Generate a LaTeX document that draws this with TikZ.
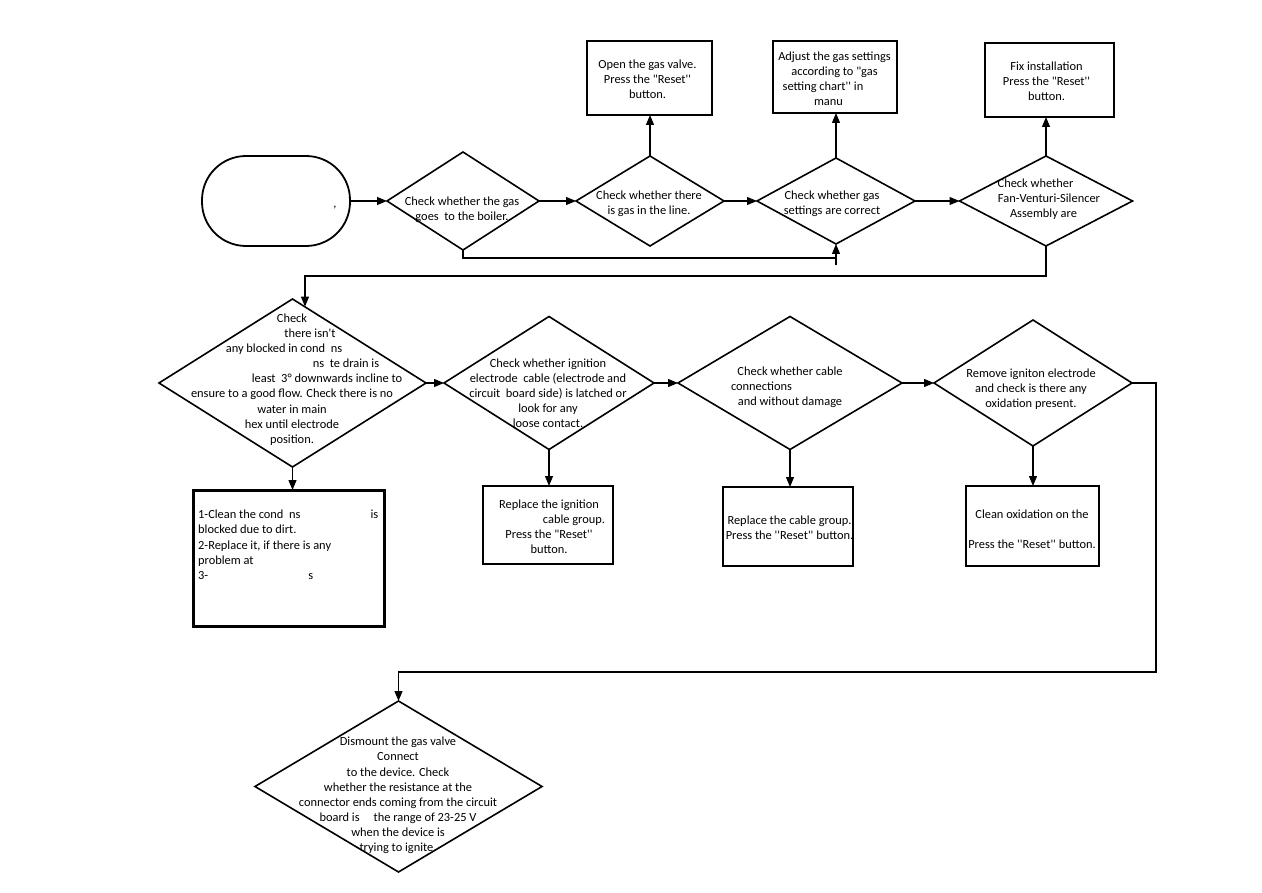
\documentclass[tikz,border=0pt]{standalone}
\usepackage{fontspec}
\setmainfont{Carlito}[Ligatures=TeXOff]
\usetikzlibrary{shapes.geometric,arrows.meta}
\begin{document}
\begin{tikzpicture}[x=1pt,y=-1pt,
  font=\fontsize{12.4}{15.1}\selectfont,
  dia/.style={diamond,draw,line width=1.6pt,inner sep=0pt,outer sep=0pt},
  box/.style={rectangle,draw,line width=1.6pt,inner sep=0pt,outer sep=0pt},
  txt/.style={align=center,inner sep=0pt},
  conn/.style={line width=1.1pt,-{Triangle[length=10pt,width=8pt]}},
  plain/.style={line width=1.1pt}]
\useasboundingbox[fill=white] (0,0) rectangle (1262,893);

% ---- row 1
\node[draw,line width=1.8pt,rectangle,rounded corners=44pt,minimum width=148pt,minimum height=90pt,inner sep=0pt,outer sep=0pt] (S) at (276,201) {};
\node[txt] (St) at (335,208) {,};

\node[dia,minimum width=152pt,minimum height=98pt] (D1) at (463,201) {};
\node[txt] (D1t) at (462,209.5) {Check whether the gas\\goes\ \ to the boiler.};

\node[dia,minimum width=148pt,minimum height=90pt] (D2) at (650,201) {};
\node[txt] (D2t) at (649,204) {Check whether there\\is gas in the line.};

\node[dia,minimum width=158pt,minimum height=86pt] (D3) at (836,201) {};
\node[txt] (D3t) at (832,204) {Check whether gas\\settings are correct};

\node[dia,minimum width=173pt,minimum height=90pt] (D4) at (1046,201) {};
\node[txt] (D4t) at (1049,199) {\hbox{Check whether\kern27pt}\\Fan-Venturi-Silencer\\\hbox{Assembly are\kern11pt}};

\node[box,minimum width=125pt,minimum height=74pt] (B1) at (649.5,78) {};
\node[txt] (B1t) at (647.5,79) {Open the gas valve.\\Press the "Reset''\\button.};

\node[box,minimum width=124pt,minimum height=72pt] (B2) at (835,77) {};
\node[txt] (B2t) at (834.5,79) {Adjust the gas settings\\according to "gas\\\hbox{setting chart'' in\kern23pt}\\\hbox{manu\kern12pt}};

\node[box,minimum width=129pt,minimum height=74pt] (B3) at (1049.5,80) {};
\node[txt] (B3t) at (1046.5,81) {Fix installation\\Press the "Reset''\\button.};

% ---- row 2
\node[dia,minimum width=267pt,minimum height=168pt] (D5) at (292.5,383) {};
\node[txt] (D5t) at (292,379.5) {Check\\\hbox{\kern36pt there isn't}\\\hbox{any blocked in cond\ \ ns\kern16pt}\\\hbox{\kern108pt ns\ \ te drain is}\\\hbox{\kern70pt least\ \ 3° downwards incline to}\\ensure to a good flow. Check there is no\\water in main\\hex until electrode\\position.};

\node[dia,minimum width=210pt,minimum height=133pt] (D6) at (549,383) {};
\node[txt] (D6t) at (548,393) {Check whether ignition\\electrode\ \ cable (electrode and\\circuit\ \ board side) is latched or\\look for any\\loose contact.};

\node[dia,minimum width=224pt,minimum height=133pt] (D7) at (790,383) {};
\node[txt] (D7t) at (790,387) {Check whether cable\\\hbox{connections\kern57pt}\\and without damage};

\node[dia,minimum width=198pt,minimum height=126pt] (D8) at (1033,383) {};
\node[txt] (D8t) at (1031,389) {Remove igniton electrode\\and check is there any\\oxidation present.};

% ---- row 3
\node[box,line width=3pt,minimum width=191pt,minimum height=136pt] (B4) at (288.5,558) {};
\node[align=left,inner sep=0pt,anchor=north west] (B4t) at (198,510) {\hbox to 180pt{1-Clean the cond\ \ ns\hfill is}\\blocked due to dirt.\\2-Replace it, if there is any\\problem at\\\hbox to 115pt{3-\hfill s}};

\node[box,line width=2pt,minimum width=130pt,minimum height=78pt] (B5) at (548,525) {};
\node[txt] (B5t) at (549,526.5) {Replace the ignition\\\hbox{\kern50pt cable group.}\\Press the "Reset''\\button.};

\node[box,line width=1.1pt,minimum width=130pt,minimum height=79pt] (B6) at (788,526.5) {};
\node[txt] (B6t) at (789.5,527.5) {Replace the cable group.\\Press the ''Reset'' button.};

\node[box,line width=1.3pt,minimum width=133pt,minimum height=80pt] (B7) at (1032.5,526) {};
\node[txt] (B7t) at (1032,529) {Clean oxidation on the\\\mbox{}\\Press the ''Reset'' button.};

% ---- bottom
\node[dia,minimum width=287pt,minimum height=171pt] (D9) at (398.5,786.5) {};
\node[txt] (D9t) at (398,795.5) {Dismount the gas valve\\Connect\\to the device. Check\\whether the resistance at the\\connector ends coming from the circuit\\board is\hspace{14pt}the range of 23-25 V\\when the device is\\trying to ignite.};

% ---- connectors
\coordinate (L1) at (836,258);
\coordinate (L1b) at (836,265);
\coordinate (L2) at (305,276);
\coordinate (R1) at (1156,672);

\draw[conn] (S.east) -- (D1.west);
\draw[conn] (D1.east) -- (D2.west);
\draw[conn] (D2.east) -- (D3.west);
\draw[conn] (D3.east) -- (D4.west);
\draw[conn] (D2.north) -- (D2.north |- B1.south);
\draw[conn] (D3.north) -- (D3.north |- B2.south);
\draw[conn] (D4.north) -- (D4.north |- B3.south);
\draw[plain] (D1.south) |- (L1);
\draw[conn] (L1b) -- (D3.south);
\draw[conn] (D4.south) |- (L2) -- (L2 |- D5.81);

\draw[conn] (D5.east) -- (D6.west);
\draw[conn] (D6.east) -- (D7.west);
\draw[conn] (D7.east) -- (D8.west);
\draw[conn] (D5.south) -- (D5.south |- B4.north);
\draw[conn] (D6.south) -- (D6.south |- B5.north);
\draw[conn] (D7.south) -- (D7.south |- B6.north);
\draw[conn] (D8.south) -- (D8.south |- B7.north);
\draw[conn] (D8.east) -| (R1) -| (D9.north);
\end{tikzpicture}
\end{document}
